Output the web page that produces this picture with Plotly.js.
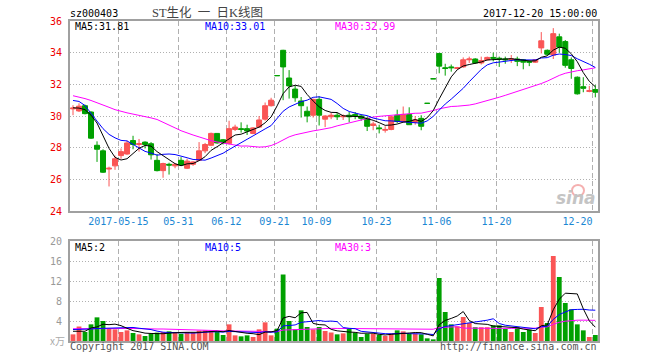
<!DOCTYPE html>
<html><head><meta charset="utf-8">
<script src="https://cdn.plot.ly/plotly-3.0.1.min.js"></script>
<style>html,body{margin:0;padding:0;background:#fff}#chart{width:660px;height:360px}</style>
</head><body><div id="chart"></div>
<script>
// ---- data ----
const opens = [30.45,30.32,30.65,30.25,28.15,27.8,26.65,26.85,27.5,27.6,
  28.45,28.2,28.35,28.25,27.2,26.55,26.95,26.85,27.2,26.7,
  26.95,27.2,27.8,28.15,28.9,28.5,28.27,29.15,29.2,29.2,
  28.9,29.3,29.8,30.65,32.55,34.15,32.4,31.7,30.95,30.3,
  30.05,31.05,29.8,29.95,30.05,29.95,30.05,30.1,30.0,29.85,
  29.4,29.25,29.1,29.15,30.05,29.65,30.1,29.6,29.85,30.8,
  32.35,33.95,33.05,33.1,33.0,33.1,33.55,33.6,33.35,33.55,
  33.7,33.65,33.6,33.55,33.6,33.55,33.45,33.4,34.3,34.15,
  33.85,35.0,34.7,33.55,32.45,31.85,31.55,31.67];
const highs = [30.68,30.8,30.72,30.3,28.4,27.9,26.8,27.5,27.95,28.45,
  28.75,28.55,28.4,28.35,27.6,27.05,27.05,27.0,27.4,27.3,
  27.15,28.35,28.3,28.95,28.9,28.55,29.7,29.45,29.6,29.45,
  29.3,30.0,30.85,31.15,32.55,34.18,32.9,31.9,31.2,30.6,
  31.1,31.25,30.05,30.2,30.2,30.1,30.25,30.25,30.1,29.95,
  29.65,29.45,29.35,30.0,30.4,30.6,30.55,30.0,30.05,30.8,
  32.35,33.98,33.3,33.25,33.1,33.7,33.75,33.65,33.75,33.75,
  34.0,33.75,33.75,33.85,33.75,33.6,33.5,33.6,35.3,34.2,
  35.55,35.2,34.8,33.7,32.5,32.45,31.9,31.95];
const lows = [30.05,30.25,30.1,28.55,27.1,26.4,25.55,26.6,27.3,27.55,
  27.9,27.75,27.95,27.25,26.5,26.1,26.3,26.7,26.85,26.65,
  26.85,27.2,27.65,28.1,28.25,28.2,28.2,29.05,28.95,28.8,
  28.85,29.25,29.7,30.6,32.55,31.0,31.1,30.9,29.9,29.6,
  29.9,29.4,29.3,29.8,29.75,29.75,29.6,29.8,29.7,29.05,
  29.1,28.9,28.95,29.1,29.55,29.6,29.45,29.45,29.1,30.8,
  32.35,32.7,32.55,32.8,32.95,33.05,33.35,33.3,33.25,33.5,
  33.45,33.1,33.3,33.35,33.15,32.95,33.15,33.35,33.95,33.8,
  33.6,34.0,33.05,32.35,31.35,31.5,31.5,31.18];
const closes = [30.5,30.62,30.15,28.6,27.9,26.45,26.7,27.3,27.75,28.3,
  28.2,28.25,28.2,27.55,26.55,27.0,26.9,26.95,26.9,27.15,
  27.1,27.8,28.2,28.9,28.3,28.3,29.2,29.3,29.15,29.05,
  29.25,29.75,30.65,31.0,32.55,33.1,31.9,31.15,30.65,30.0,
  31.05,30.05,30.0,30.05,29.95,30.0,29.95,30.0,29.85,29.35,
  29.5,29.2,29.15,29.95,29.65,30.1,29.45,29.75,29.35,30.8,
  32.35,33.15,33.0,33.05,33.05,33.55,33.6,33.35,33.5,33.7,
  33.65,33.6,33.55,33.6,33.45,33.4,33.4,33.55,34.75,33.9,
  35.2,34.35,33.2,33.0,31.4,31.75,31.6,31.5];
const volumes = [1.33,2.9,1.8,3.33,4.73,4.0,2.47,2.33,1.8,2.13,
  1.6,1.33,1.0,1.47,1.67,1.8,1.93,1.67,1.47,1.8,
  1.67,2.07,2.13,2.07,1.8,1.2,3.33,1.13,0.93,1.13,
  0.8,2.33,3.73,1.13,2.47,13.3,4.0,2.33,6.13,2.8,
  2.33,2.8,2.0,1.7,1.33,1.53,2.4,1.67,0.8,1.47,
  1.47,1.27,1.0,1.47,2.13,1.93,1.47,1.47,1.33,0.53,
  0.33,12.6,5.8,3.33,2.93,4.8,3.6,2.75,2.75,2.75,
  3.13,3.13,2.4,1.8,2.8,1.8,2.27,1.6,6.8,3.6,
  17.0,12.8,7.6,6.35,3.33,2.13,0.8,1.2];
const tickIndex = [8,18,26,34,41,51,61,71,87];
const tickLabels = ['2017-05-15','05-31','06-12','09-21','10-09','10-23','11-06','11-20','12-20'];
// moving-average values at the start of the window (history not shown in the chart)
const ma5Lead = [30.52,30.5,30.4,30.05];
const ma10Lead = [30.98,30.92,30.66,30.14,29.68,29.2,28.84,28.62,28.46];
const ma30Lead = [31.28,31.2,31.1,30.98,30.85,30.7,30.55,30.4,30.28,30.2,30.12,30.05,29.97,29.88,29.78,29.62,29.45,29.25,29.07,28.92,28.8,28.68,28.55,28.44,28.36,28.3,28.2,28.14,28.1];
const volMa5Lead = [1.95,1.95,1.95,2.6];
const volMa10Lead = [2.3,2.3,2.35,2.4,2.5,2.55,2.55,2.55,2.55];
const volMa30Lead = [2.45,2.47,2.48,2.5,2.5,2.5,2.5,2.5,2.5,2.5,2.5,2.48,2.42,2.4,2.4,2.4,2.38,2.35,2.3,2.28,2.27,2.25,2.22,2.15,2.08,2.03,2.02,2.0,2.0];
const priceLabels = ['MA5:31.81','MA10:33.01','MA30:32.99'];
const volLabels = ['MA5:2','MA10:5','MA30:3'];

// ---- build ----
function movingAvg(vals, n, lead){
  return vals.map((v,i)=>{
    if(i < n-1) return lead[i];
    let s=0; for(let k=i-n+1;k<=i;k++) s+=vals[k];
    return s/n;
  });
}
const idx = closes.map((_,i)=>i);
const isUp = closes.map((c,i)=>c>opens[i]);
const UP='#fa5555', DOWN='#00a000';
function pick(arr, want){ return arr.filter((_,i)=>isUp[i]===want); }
function candle(want){
  const col = want?UP:DOWN;
  return {type:'candlestick', xaxis:'x', yaxis:'y',
    x:pick(idx,want), open:pick(opens,want), high:pick(highs,want), low:pick(lows,want), close:pick(closes,want),
    increasing:{line:{color:col,width:1},fillcolor:col},
    decreasing:{line:{color:col,width:1},fillcolor:col},
    whiskerwidth:0, hoverinfo:'skip', showlegend:false};
}
function line(y, color, xa, ya){
  return {type:'scatter', mode:'lines', x:idx, y:y, xaxis:xa, yaxis:ya,
    line:{color:color,width:1}, hoverinfo:'skip', showlegend:false};
}
const BLACK='#000000', BLUE='#0000ff', MAG='#ff00ff';
const traces = [
  {type:'bar', x:idx, y:volumes, xaxis:'x2', yaxis:'y2', width:0.8,
   marker:{color:isUp.map(u=>u?UP:DOWN), line:{width:0}}, hoverinfo:'skip', showlegend:false},
  line(movingAvg(volumes,30,volMa30Lead), MAG,'x2','y2'),
  line(movingAvg(volumes,10,volMa10Lead), BLUE,'x2','y2'),
  line(movingAvg(volumes,5,volMa5Lead), BLACK,'x2','y2'),
  line(movingAvg(closes,30,ma30Lead), MAG,'x','y'),
  line(movingAvg(closes,10,ma10Lead), BLUE,'x','y'),
  line(movingAvg(closes,5,ma5Lead), BLACK,'x','y'),
  candle(true), candle(false)
];

const W=660,H=360,L=70,R=62,T=21,B=19;
const px = x => (x-L)/(W-L-R);
const py = y => (H-B-y)/(H-T-B);
const MONO='DejaVu Sans Mono, monospace';
const tickvals = tickIndex.map(i=>i-0.45);
// the last label is kept inside the frame, as in the reference
const tickText = tickLabels.map((t,k)=> k===tickLabels.length-1 ? t+'\u00a0'.repeat(5) : t);
const gridCol='#b0b0b0', frameCol='#a0a0a0';
const xCommon = {range:[-0.5,87.45], tickvals:tickvals, ticktext:tickText, showgrid:true,
  gridcolor:gridCol, gridwidth:1, griddash:'5px,3px', showline:true, linecolor:frameCol, linewidth:2,
  mirror:true, zeroline:false, ticks:'', fixedrange:true};
function ann(text,x,y,color,xanchor,size,family,extra){
  return Object.assign({text:text, xref:'paper', yref:'paper', x:px(x), y:py(y), xanchor:xanchor, yanchor:'middle',
    showarrow:false, font:{family:family||MONO, size:size||10, color:color}}, extra||{});
}
const NB='\u00a0';
const layout = {
  width:W, height:H, margin:{l:L,r:R,t:T,b:B}, paper_bgcolor:'#fff', plot_bgcolor:'#fff',
  showlegend:false, boxgap:0.17, boxgroupgap:0, hovermode:false,
  xaxis: Object.assign({}, xCommon, {anchor:'y', domain:[0,1], rangeslider:{visible:false},
    tickfont:{family:MONO,size:10,color:'#1b87d3'}}),
  yaxis: {domain:[(H-B-211)/(H-T-B),1], anchor:'x', range:[24,36], tickvals:[24,26,28,30,32,34,36],
    tickfont:{family:MONO,size:10,color:'#ee0000'}, showgrid:true, gridcolor:gridCol, griddash:'1px,2px',
    showline:true, linecolor:frameCol, linewidth:2, mirror:true, zeroline:false, ticks:'', ticklabelstandoff:4, fixedrange:true},
  xaxis2: Object.assign({}, xCommon, {anchor:'y2', domain:[0,1], matches:'x', showticklabels:false}),
  yaxis2: {domain:[0,(H-B-241)/(H-T-B)], anchor:'x2', range:[0,20], tickvals:[4,8,12,16,20],
    tickfont:{family:MONO,size:10,color:'#999999'}, showgrid:true, gridcolor:gridCol, griddash:'1px,2px',
    showline:true, linecolor:frameCol, linewidth:2, mirror:true, zeroline:false, ticks:'', ticklabelstandoff:4, fixedrange:true},
  shapes: [
    {type:'circle', xref:'paper', yref:'paper', x0:px(572), x1:px(584), y0:py(196), y1:py(185),
     line:{color:'#f5b0b0', width:2}, fillcolor:'rgba(0,0,0,0)', layer:'below'}
  ],
  annotations: [
    ann('sz000403',68,13,'#000','left'),
    ann('ST生化'+NB+NB+'一'+NB+NB+'日K线图',150,13,'#444','left',12.5,'Liberation Serif, Noto Sans CJK SC'),
    ann('2017-12-20 15:00:00',599,13,'#000','right'),
    ann(priceLabels[0],73,26,BLACK,'left'),
    ann(priceLabels[1],203,26,BLUE,'left'),
    ann(priceLabels[2],333,26,MAG,'left'),
    ann(volLabels[0],73,247,BLACK,'left'),
    ann(volLabels[1],203,247,BLUE,'left'),
    ann(volLabels[2],333,247,MAG,'left'),
    ann('x万',57,340,'#aaaaaa','center',10,'Noto Sans CJK SC'),
    ann('Copyright 2017 SINA.COM',68,346,'#555','left'),
    ann('http://finance.sina.com.cn',599,346,'#555','right'),
    ann('sina',598,198,'#c4c4c4','right',17,'DejaVu Sans',{font:{family:'DejaVu Sans',size:17,color:'#c4c4c4',weight:700,style:'italic'}})
  ]
};
Plotly.newPlot('chart', traces, layout, {staticPlot:true, displayModeBar:false});
</script></body></html>
